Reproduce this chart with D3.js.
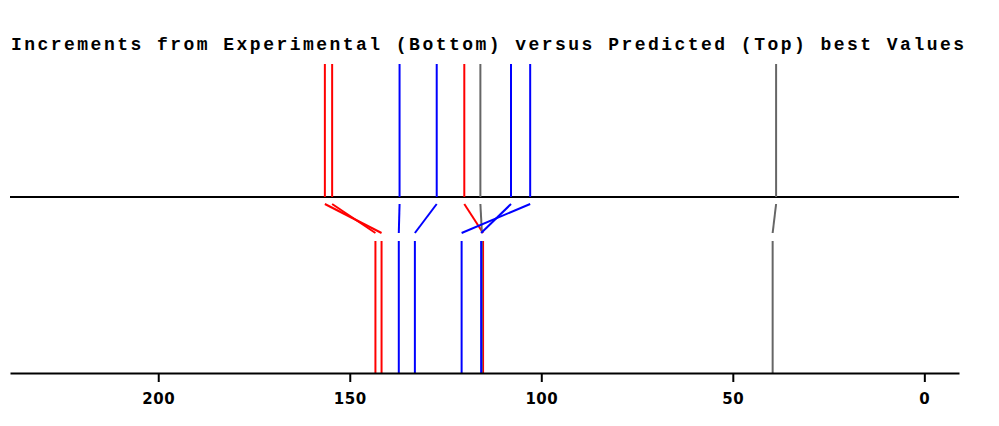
<!DOCTYPE html>
<html>
<head>
<meta charset="utf-8">
<script src="https://cdn.jsdelivr.net/npm/d3@7"></script>
<style>
body { margin: 0; background: #fff; }
.axis text { font-family: "DejaVu Sans", sans-serif; font-weight: bold; font-size: 15px; letter-spacing: 0.5px; }
</style>
</head>
<body>
<script>
var width = 999,
    height = 426;

// predicted (top) and experimental (bottom) increments, paired by index
var predicted    = [156.5, 154.6, 137.0, 127.3, 120.1, 115.9, 107.9, 102.9, 38.7];
var experimental = [141.7, 143.3, 137.2, 133.0, 115.2, 115.5, 115.7, 120.8, 39.6];
var colors       = ["red", "red", "blue", "blue", "red", "#666", "blue", "blue", "#666"];
var tickValues   = [200, 150, 100, 50, 0];
var title = "Increments from Experimental (Bottom) versus Predicted (Top) best Values";

var svg = d3.select("body").append("svg").attr("width", width).attr("height", height);

var x = d3.scaleLinear()
    .domain([238.7, -9.05])
    .range([10, 959]);

// vertical bands: top sticks, connectors, bottom sticks
var yTop = [64, 197], yLink = [204, 233], yBot = [241, 373];

var data = predicted.map((p, i) => ({p: p, e: experimental[i], c: colors[i]}));

svg.append("text")
    .attr("x", 11).attr("y", 50)
    .attr("textLength", 953).attr("lengthAdjust", "spacing")
    .style("font-family", "'Liberation Mono', 'Courier New', monospace")
    .style("font-weight", "bold").style("font-size", "18px")
    .text(title);

svg.append("line").attr("x1", 10).attr("x2", 959).attr("y1", 197).attr("y2", 197)
    .attr("stroke", "black").attr("stroke-width", 2);

svg.selectAll("line.top").data(data).enter().append("line")
    .attr("class", "top")
    .attr("x1", d => x(d.p)).attr("x2", d => x(d.p))
    .attr("y1", yTop[0]).attr("y2", yTop[1])
    .attr("stroke", d => d.c).attr("stroke-width", 2);

svg.selectAll("line.link").data(data).enter().append("line")
    .attr("class", "link")
    .attr("x1", d => x(d.p)).attr("x2", d => x(d.e))
    .attr("y1", yLink[0]).attr("y2", yLink[1])
    .attr("stroke", d => d.c).attr("stroke-width", 2);

svg.selectAll("line.bot").data(data).enter().append("line")
    .attr("class", "bot")
    .attr("x1", d => x(d.e)).attr("x2", d => x(d.e))
    .attr("y1", yBot[0]).attr("y2", yBot[1])
    .attr("stroke", d => d.c).attr("stroke-width", 2);

var ax = svg.append("g").attr("class", "axis")
    .attr("transform", "translate(0,373)")
    .call(d3.axisBottom(x).tickValues(tickValues).tickSizeInner(9).tickSizeOuter(0).tickPadding(11));
ax.select(".domain").attr("stroke-width", 2);
ax.selectAll(".tick line").attr("stroke-width", 2);
</script>
</body>
</html>
